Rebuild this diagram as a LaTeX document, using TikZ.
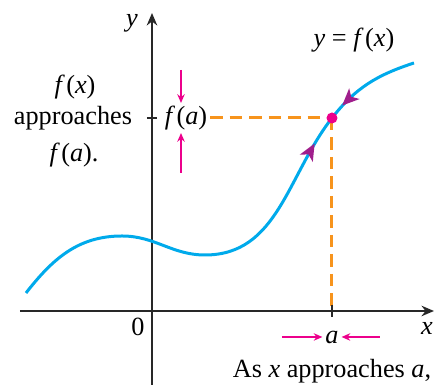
\documentclass[tikz,border=0pt]{standalone}
\usepackage{fontspec}
\setmainfont{Liberation Serif}
\usepackage{tikz}
\usetikzlibrary{arrows.meta, decorations.markings}
\definecolor{cCurve}{RGB}{0,170,235}
\definecolor{cDash}{RGB}{247,148,29}
\definecolor{cPink}{RGB}{236,0,140}
\definecolor{cPlum}{RGB}{160,30,140}
\definecolor{cAxis}{RGB}{40,40,40}
\newcommand{\fof}[1]{\textit{f}\kern0.6pt(\textit{#1})}
\tikzset{
	axis/.style={draw=cAxis, line width=0.8pt, -{Stealth[length=5pt, width=4.2pt]}},
	tickmark/.style={draw=cAxis, line width=0.8pt},
	guide/.style={draw=cDash, line width=1.2pt, dash pattern=on 5pt off 2.8pt},
	curve/.style={draw=cCurve, line width=1.2pt},
	nudge/.style={draw=cPink, line width=0.5pt, -{Stealth[length=3.5pt, width=3pt]}},
	label/.style={font=\fontsize{10.5}{12.5}\selectfont, inner sep=1pt},
	fwdmark/.style={postaction={decorate, decoration={markings,
		mark=at position #1 with {\fill[cPlum] (3.6pt,0) -- (-3.2pt,3pt) -- (-1.4pt,0) -- (-3.2pt,-3pt) -- cycle;}}}},
	backmark/.style={postaction={decorate, decoration={markings,
		mark=at position #1 with {\fill[cPlum] (-3.6pt,0) -- (3.2pt,3pt) -- (1.4pt,0) -- (3.2pt,-3pt) -- cycle;}}}},
}

\begin{document}
\begin{tikzpicture}[x=0.4pt, y=0.4pt]
	\useasboundingbox (0,0) rectangle (435,385);
	% axes
	\coordinate (o) at (152,74);
	\coordinate (xend) at (434,74);
	\coordinate (yend) at (152,372);
	\draw[axis] (20,74) -- (xend);
	\draw[axis] (152,0) -- (yend);
	\node[label] (ylab) at (132,362) {\textit{y}};
	\node[label] (xlab) at (427,57) {\textit{x}};
	\node[label] (zero) at (138,58) {0};
	% the point (a, f(a))
	\coordinate (p) at (332,267);
	\coordinate (pa) at (332,74);
	\node[label] (fa) at (186,267) {\fof{a}};
	\draw[guide] (fa.east) -- (p);
	\draw[guide] (p) -- (pa);
	\draw[tickmark] (332,80) -- (332,68);
	\draw[tickmark] (147,267) -- (157,267);
	% the curve
	\draw[curve, fwdmark=0.9] (26,92) to[out=52, in=180] (122,149)
		to[out=0, in=180] (205,130) to[out=0, in=232] (p);
	\draw[curve, backmark=0.25] (p) to[out=52, in=198] (414,322);
	\fill[cPink] (p) circle (2.2pt);
	\node[label] (eq) at (354,345) {\textit{y} = \fof{x}};
	% approach arrows
	\node[label] (a) at (332,48) {\textit{a}};
	\draw[nudge] (282,48) -- (a.west);
	\draw[nudge] (380,48) -- (a.east);
	\draw[nudge] (181,315) -- (fa.north -| 181,0);
	\draw[nudge] (181,212) -- (fa.south -| 181,0);
	% captions
	\node[label] (fx) at (75,298) {\fof{x}};
	\node[label] (appr) at (73,267) {approaches};
	\node[label] (fadot) at (74,230) {\fof{a}.};
	\node[label] (cap) at (332,14) {As \textit{x} approaches \textit{a},};
\end{tikzpicture}
\end{document}
